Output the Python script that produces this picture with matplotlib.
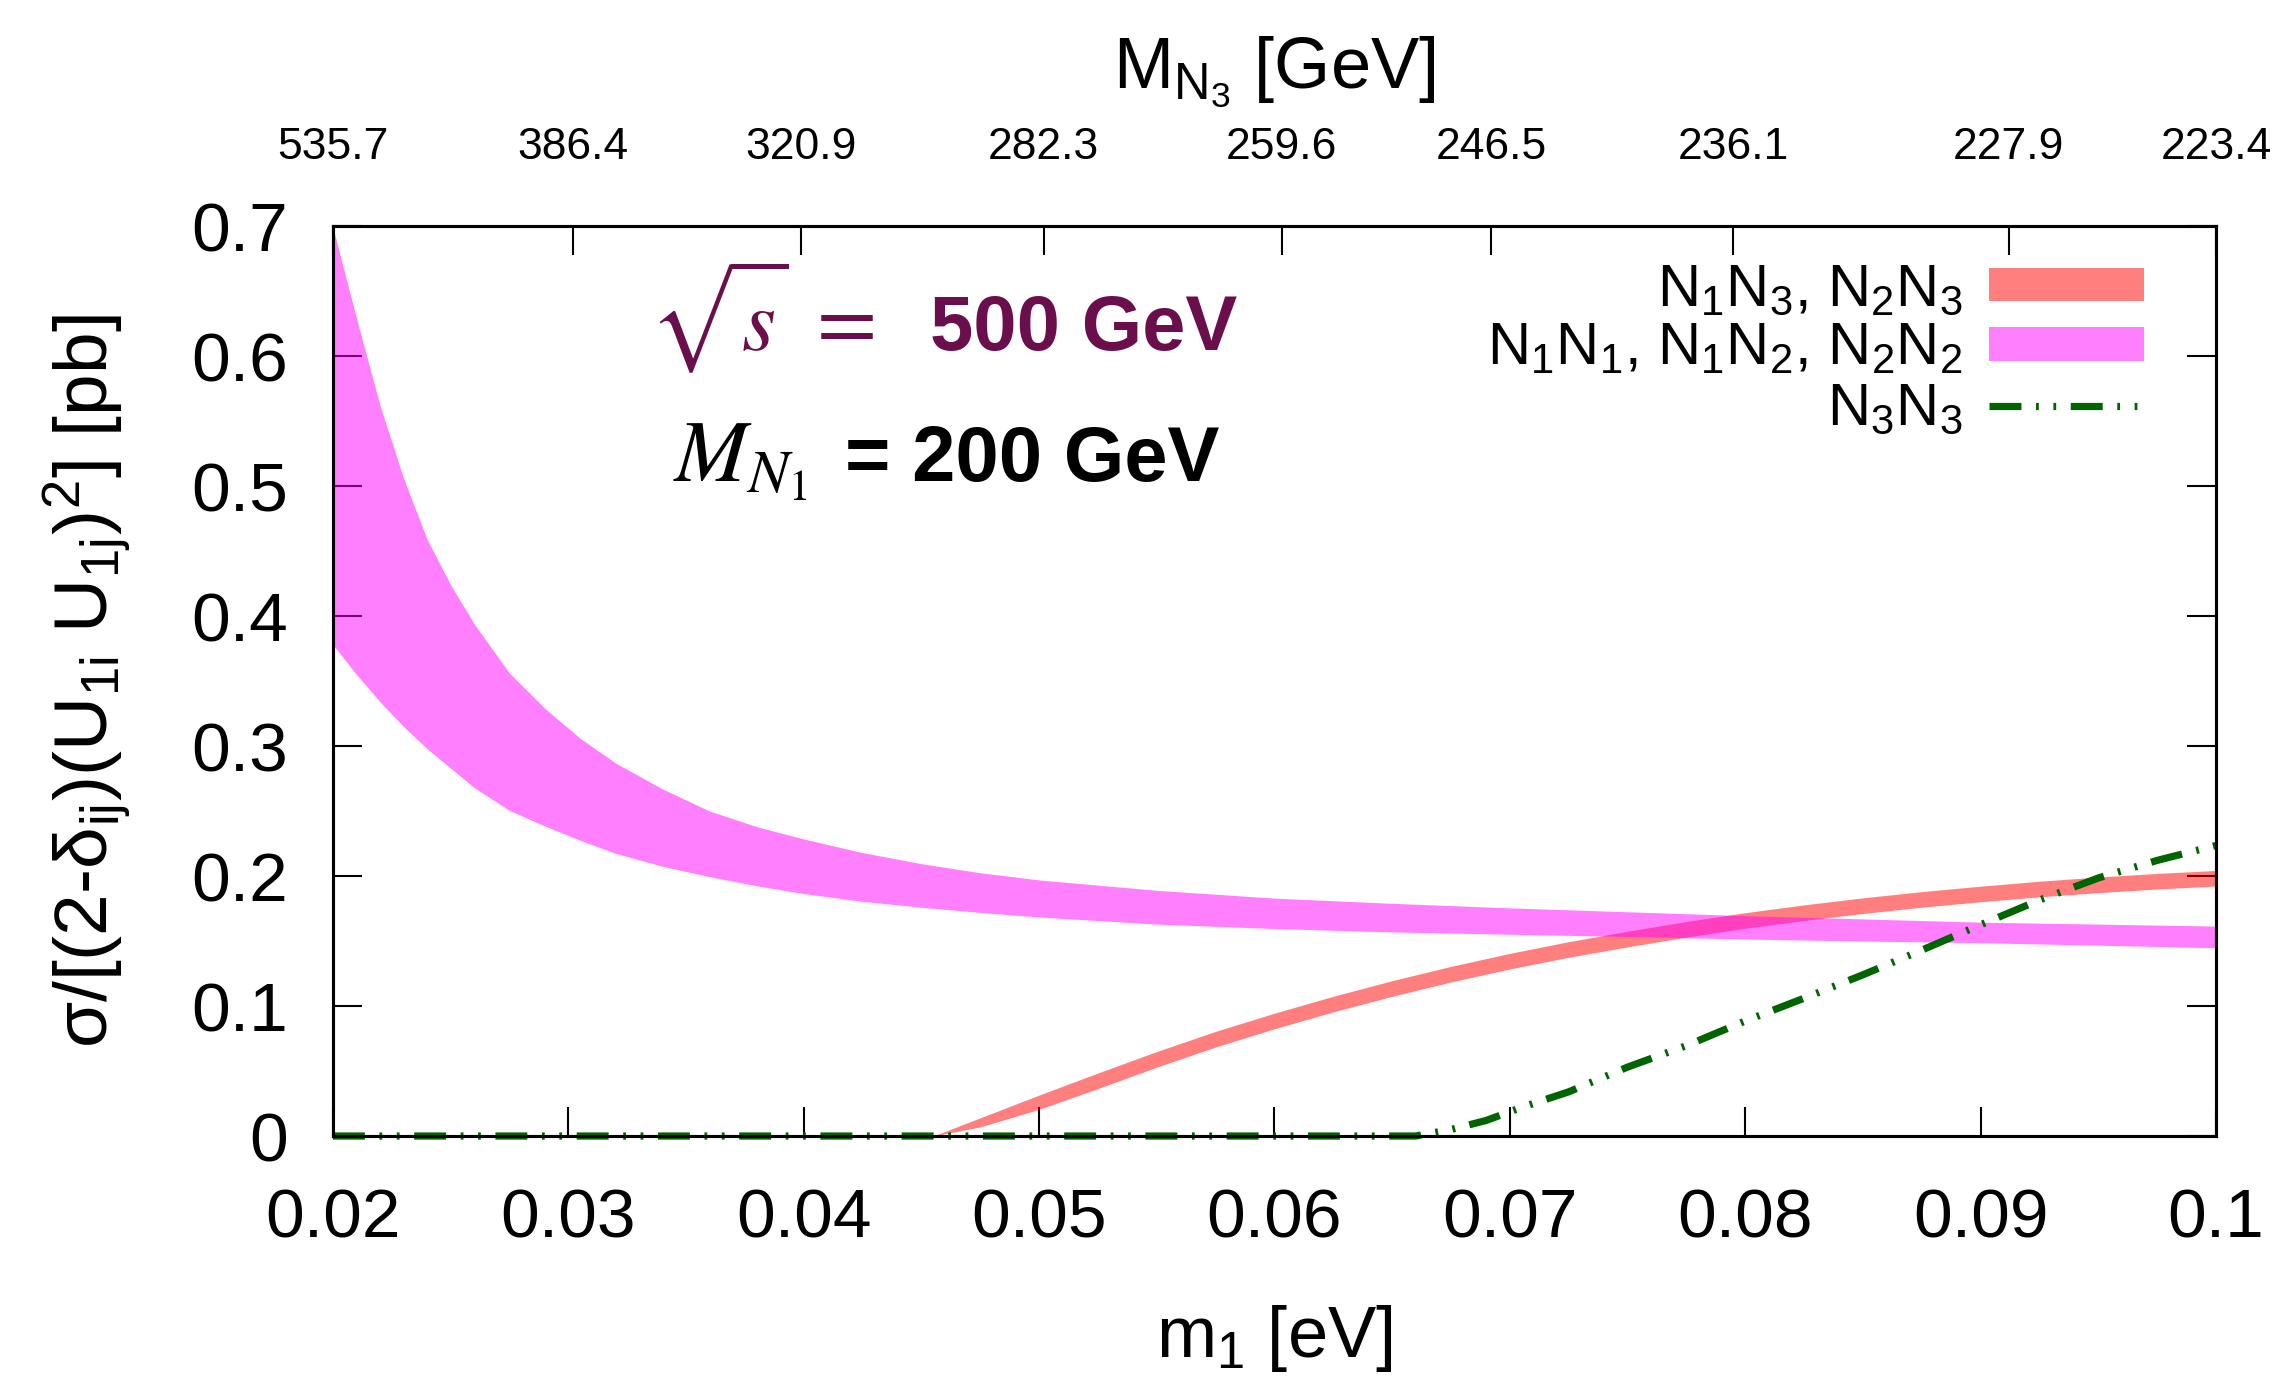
import matplotlib
matplotlib.use("Agg")
import matplotlib.pyplot as plt
from matplotlib.patches import Patch
from matplotlib.lines import Line2D

plt.rcParams['font.family'] = ['Liberation Sans', 'DejaVu Sans']
plt.rcParams['mathtext.fontset'] = 'custom'
plt.rcParams['mathtext.rm'] = 'Liberation Sans'
plt.rcParams['mathtext.it'] = 'Liberation Sans:italic'
plt.rcParams['mathtext.bf'] = 'Liberation Sans:bold'
plt.rcParams['lines.scale_dashes'] = False

# N1N1, N1N2, N2N2 band
m_pink = [0.02, 0.021, 0.022, 0.023, 0.024, 0.025, 0.026, 0.0275, 0.029, 0.0305,
          0.032, 0.034, 0.036, 0.038, 0.04, 0.0425, 0.045, 0.0475, 0.05, 0.055,
          0.06, 0.065, 0.07, 0.075, 0.08, 0.085, 0.09, 0.095, 0.1]
pink_hi = [0.699, 0.629, 0.562, 0.506, 0.459, 0.424, 0.394, 0.356, 0.329, 0.306,
           0.287, 0.267, 0.250, 0.238, 0.2285, 0.218, 0.2095, 0.2025, 0.197, 0.189,
           0.183, 0.179, 0.1755, 0.1725, 0.1695, 0.167, 0.1645, 0.163, 0.1615]
pink_lo = [0.378, 0.355, 0.334, 0.315, 0.298, 0.283, 0.268, 0.2505, 0.2385, 0.2275,
           0.2175, 0.2075, 0.1995, 0.1925, 0.1865, 0.1805, 0.176, 0.172, 0.1685, 0.163,
           0.1596, 0.157, 0.1552, 0.1535, 0.1515, 0.150, 0.1487, 0.1468, 0.1448]

# N1N3, N2N3 band
m_red = [0.0455, 0.0475, 0.05, 0.0525, 0.055, 0.0575, 0.06, 0.0625, 0.065, 0.0675,
         0.07, 0.0725, 0.075, 0.0775, 0.08, 0.0825, 0.085, 0.0875, 0.09, 0.0925,
         0.095, 0.0975, 0.1]
red_lo = [0.0, 0.0070, 0.0205, 0.0365, 0.0530, 0.0685, 0.0825, 0.0955, 0.1075, 0.1185,
          0.1285, 0.1375, 0.1455, 0.1530, 0.1598, 0.1658, 0.1712, 0.1760, 0.1802, 0.1840,
          0.1872, 0.1900, 0.1923]
red_hi = [0.0, 0.0140, 0.0315, 0.0485, 0.0650, 0.0805, 0.0945, 0.1075, 0.1195, 0.1305,
          0.1405, 0.1495, 0.1575, 0.1650, 0.1718, 0.1778, 0.1832, 0.1880, 0.1922, 0.1960,
          0.1992, 0.2020, 0.2043]

# N3N3
m_green = [0.02, 0.066, 0.0675, 0.069, 0.0705, 0.0725, 0.075, 0.0775, 0.08, 0.0825,
           0.085, 0.0875, 0.09, 0.0925, 0.095, 0.0975, 0.1]
green = [0.0, 0.0, 0.005, 0.012, 0.022, 0.034, 0.053, 0.0695, 0.0885, 0.106,
         0.124, 0.143, 0.1625, 0.1815, 0.1985, 0.212, 0.2235]

x_ticks = [0.02, 0.03, 0.04, 0.05, 0.06, 0.07, 0.08, 0.09, 0.1]
x_ticklabels = ['0.02', '0.03', '0.04', '0.05', '0.06', '0.07', '0.08', '0.09', '0.1']
y_ticks = [0, 0.1, 0.2, 0.3, 0.4, 0.5, 0.6, 0.7]
y_ticklabels = ['0', '0.1', '0.2', '0.3', '0.4', '0.5', '0.6', '0.7']
top_pos = [0.02, 0.0302, 0.0399, 0.0502, 0.0603, 0.0692, 0.0795, 0.0912, 0.1]
top_labels = ['535.7', '386.4', '320.9', '282.3', '259.6', '246.5', '236.1', '227.9', '223.4']

dash_pat = (23, 10.5, 2, 10.5, 2, 10.5)
purple = '#6b0f4c'

fig = plt.figure(figsize=(22.85, 13.79), dpi=100)
ax = fig.add_axes([0.1457, 0.1762, 0.8241, 0.6599])

ax.fill_between(m_red, red_lo, red_hi, color='red', alpha=0.5, lw=0, zorder=1)
ax.fill_between(m_pink, pink_lo, pink_hi, color='magenta', alpha=0.5, lw=0, zorder=1.1)
ax.plot(m_green, green, color='#006400', lw=5.2, dashes=dash_pat,
        solid_capstyle='butt', dash_capstyle='butt', zorder=3, clip_on=False)

ax.set_xlim(0.02, 0.1)
ax.set_ylim(0, 0.7)
ax.set_xticks(x_ticks)
ax.set_xticklabels(x_ticklabels)
ax.set_yticks(y_ticks)
ax.set_yticklabels(y_ticklabels)
ax.set_axisbelow(True)
ax.tick_params(axis='x', direction='in', length=21, width=1.5, labelsize=50, pad=37, top=False)
ax.tick_params(axis='y', direction='in', length=21, width=1.5, labelsize=50, pad=32, right=True)
for s in ax.spines.values():
    s.set_linewidth(2.2)

ax.set_xlabel('m$_1$ [eV]', fontsize=52, va='top')
ax.xaxis.set_label_coords(0.5, -0.184)
fig.text(0.0385, 0.506, r'σ/[(2-δ$_{\mathrm{ij}}$)(U$_{\mathrm{1i}}$ U$_{\mathrm{1j}}$)$^{2}$] [pb]',
         rotation=90, ha='center', va='center', fontsize=54)

ax_top = ax.twiny()
ax_top.set_xlim(ax.get_xlim())
ax_top.set_xticks(top_pos)
ax_top.set_xticklabels(top_labels)
ax_top.tick_params(axis='x', direction='in', length=21, width=1.5, labelsize=32, pad=42)
ax_top.set_xlabel(r'M$_{\mathrm{N}_{3}}$ [GeV]', fontsize=52)
ax_top.xaxis.set_label_coords(0.5, 1.152)
for s in ax_top.spines.values():
    s.set_linewidth(2.2)

handles = [Patch(facecolor='red', alpha=0.5, lw=0),
           Patch(facecolor='magenta', alpha=0.5, lw=0),
           Line2D([], [], color='#006400', lw=5.2, dashes=dash_pat, dash_capstyle='butt')]
labels = ['N$_1$N$_3$, N$_2$N$_3$', 'N$_1$N$_1$, N$_1$N$_2$, N$_2$N$_2$', 'N$_3$N$_3$']
ax_top.legend(handles, labels, loc='upper right', bbox_to_anchor=(0.962, 0.96),
              frameon=False, markerfirst=False, fontsize=43, handlelength=2.6,
              handleheight=0.48, handletextpad=0.45, labelspacing=0.08,
              borderpad=0, borderaxespad=0)

fig.text(0.3825, 0.746, r'$\sqrt{s}\;=$', math_fontfamily='stix', fontsize=63,
         color=purple, ha='right', va='baseline')
fig.text(0.407, 0.746, '500 GeV', fontsize=56, fontweight='bold', color=purple,
         ha='left', va='baseline')
fig.text(0.2945, 0.651, r'$M_{N_1}$', math_fontfamily='stix', fontsize=63,
         color='black', ha='left', va='baseline')
fig.text(0.370, 0.651, '= 200 GeV', fontsize=56, fontweight='bold', color='black',
         ha='left', va='baseline')

fig.savefig('out.png', dpi=100)
